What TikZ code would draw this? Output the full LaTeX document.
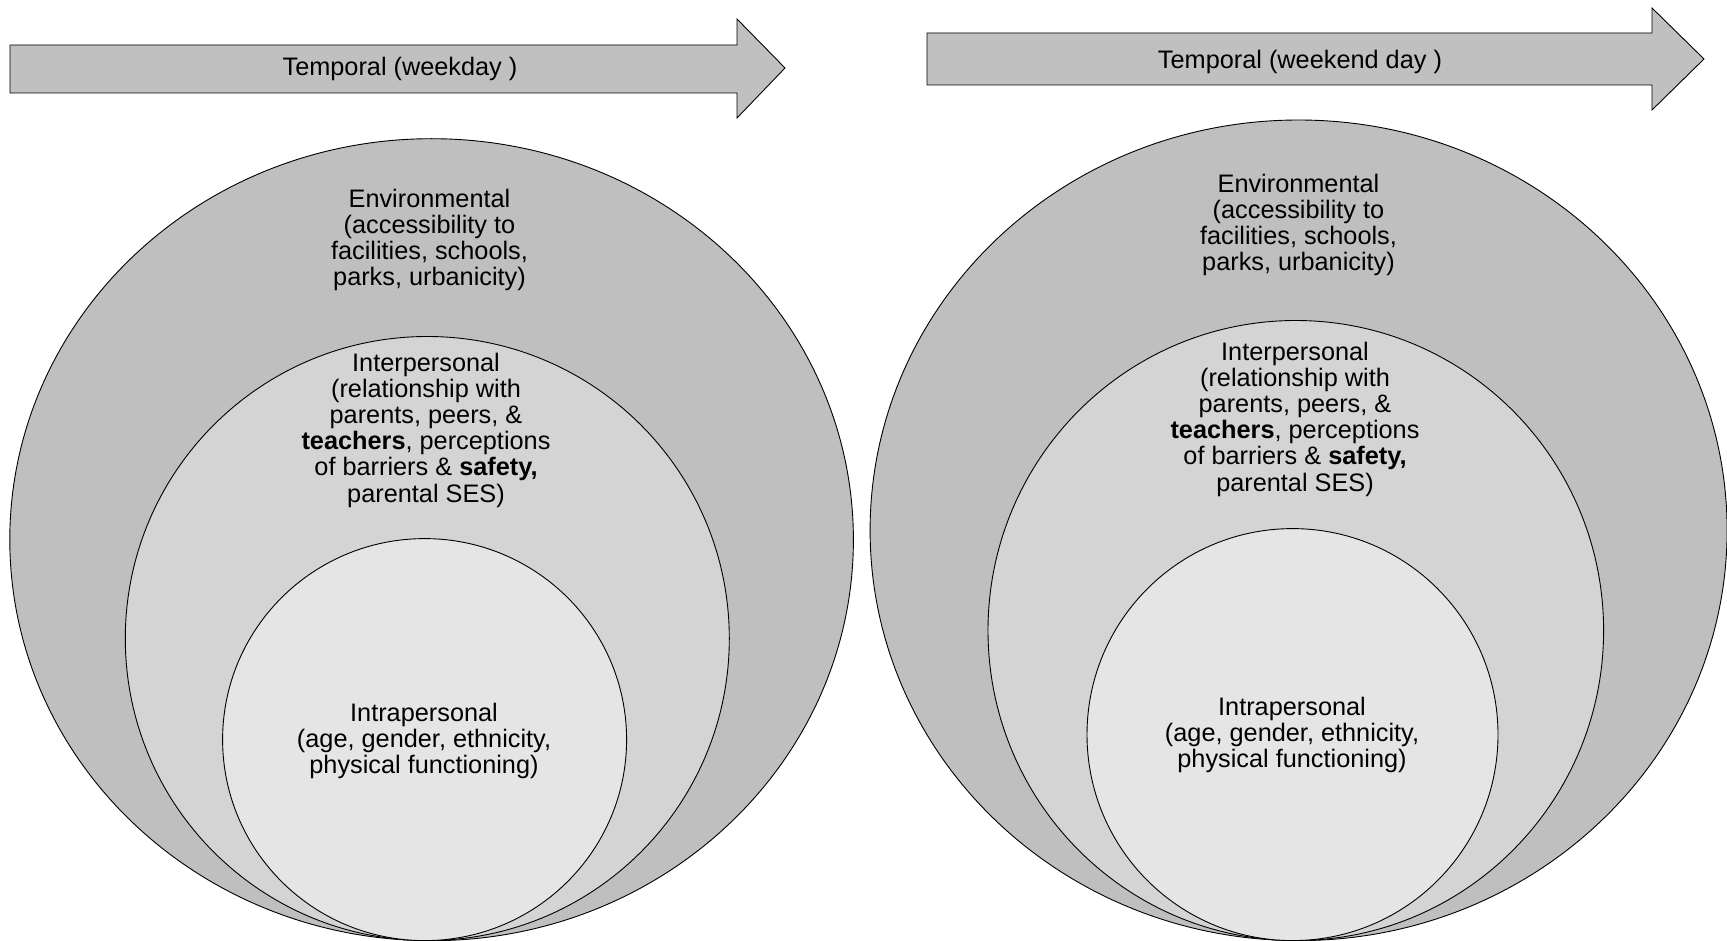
\documentclass[tikz,border=0pt]{standalone}
\usepackage{fontspec}
\setmainfont{Liberation Sans}
\definecolor{gOuter}{HTML}{BFBFBF}
\definecolor{gMid}{HTML}{D4D4D4}
\definecolor{gIn}{HTML}{E6E5E6}
\definecolor{gArrow}{HTML}{C0C0C0}
\begin{document}
\begin{tikzpicture}[x=1pt,y=-1pt,line width=0.9pt,
  lbl/.style={align=center,font=\fontsize{25.3}{26.2}\selectfont,inner sep=0pt},
  outerring/.style={fill=gOuter,draw=black},
  midring/.style={fill=gMid,draw=black},
  inring/.style={fill=gIn,draw=black},
  temparrow/.style={fill=gArrow,draw=black}]
\useasboundingbox (0,0) rectangle (1727,941);
\fill[white] (0,0) rectangle (1727,941);
% arrows
\draw[temparrow] (10,45) -- (737,45) -- (737,19) -- (785,68) -- (737,118) -- (737,93) -- (10,93) -- cycle;
\node[lbl] (tleft) at (400,69) {Temporal (weekday )};
\draw[temparrow] (927,33) -- (1652,33) -- (1652,8) -- (1704,59) -- (1652,110) -- (1652,85) -- (927,85) -- cycle;
\node[lbl] (tright) at (1300,62) {Temporal (weekend day )};
% left circles
\draw[outerring] (431.6,539.7) ellipse [x radius=421.8pt, y radius=401pt];
\draw[midring] (427.3,638.5) ellipse [x radius=302pt, y radius=302pt];
\draw[inring] (424.6,739.6) ellipse [x radius=202pt, y radius=201pt];
\node[lbl] (envL) at (429.5,240) {Environmental\\(accessibility to\\facilities, schools,\\parks, urbanicity)};
\node[lbl] (interL) at (426,430) {Interpersonal\\(relationship with\\parents, peers, \&\\\textbf{teachers}, perceptions\\of barriers \& \textbf{safety,}\\parental SES)};
\node[lbl] (intraL) at (424,741) {Intrapersonal\\(age, gender, ethnicity,\\physical functioning)};
% right circles
\draw[outerring] (1298.6,530.3) ellipse [x radius=428.5pt, y radius=410.3pt];
\draw[midring] (1295.8,630.5) ellipse [x radius=307.8pt, y radius=310pt];
\draw[inring] (1292.5,734.6) ellipse [x radius=205.5pt, y radius=206pt];
\node[lbl] (envR) at (1298.5,225) {Environmental\\(accessibility to\\facilities, schools,\\parks, urbanicity)};
\node[lbl] (interR) at (1295,419) {Interpersonal\\(relationship with\\parents, peers, \&\\\textbf{teachers}, perceptions\\of barriers \& \textbf{safety,}\\parental SES)};
\node[lbl] (intraR) at (1292,735) {Intrapersonal\\(age, gender, ethnicity,\\physical functioning)};
\end{tikzpicture}
\end{document}
